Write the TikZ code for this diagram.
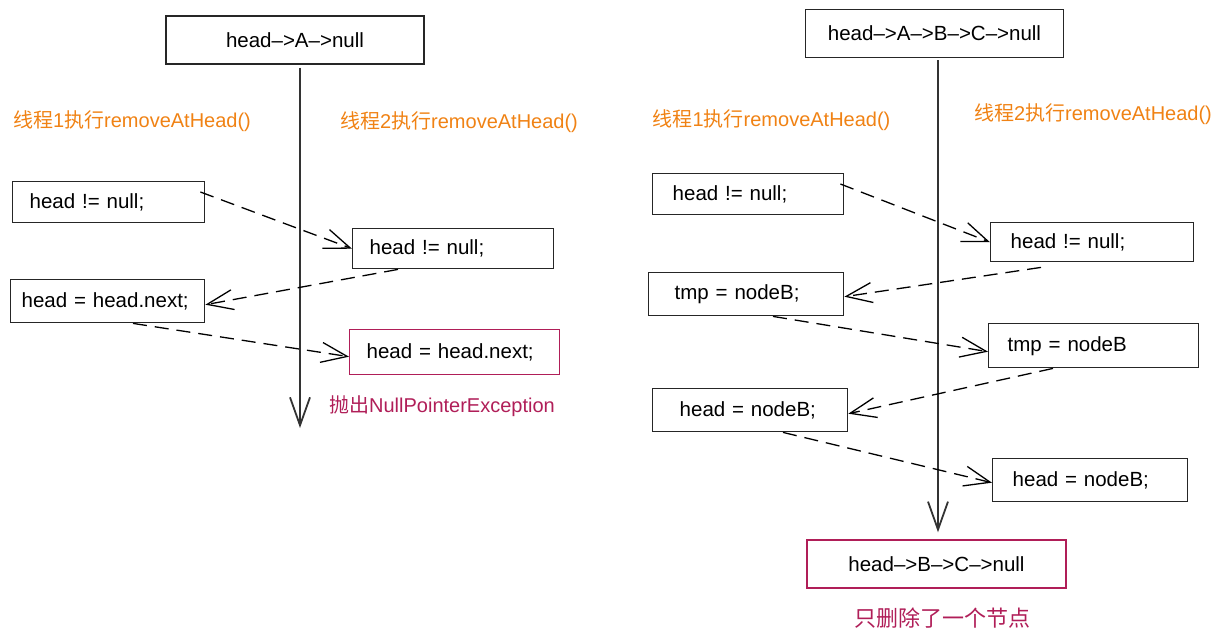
\documentclass[tikz,border=0pt]{standalone}
\usepackage{fontspec}
\setmainfont{Liberation Sans}
\newfontfamily\cjk{Noto Sans CJK SC}
\usetikzlibrary{arrows.meta}

\definecolor{threadorange}{RGB}{240,130,20}
\definecolor{alertred}{RGB}{176,30,88}
\newcommand{\codefont}{\fontsize{10.25}{12}\selectfont}
\newcommand{\labelfont}{\fontsize{10}{12}\selectfont}

\begin{document}
\begin{tikzpicture}[x=0.5pt,y=-0.5pt,
  stmt/.style={draw=black!85, line width=0.7pt, anchor=north west, align=left, font=\codefont},
  state/.style={draw=black!85, line width=0.7pt, minimum width=129pt, minimum height=24pt, font=\codefont},
  msg/.style={dash pattern=on 7pt off 4pt, line width=0.65pt, -{Straight Barb[length=13pt,width=10pt]}},
  timeline/.style={line width=0.9pt, black!80, -{Straight Barb[length=14pt,width=10pt]}},
  thread/.style={text=threadorange, font=\labelfont}]
\useasboundingbox (0,0) rectangle (1223,642);

% left: list with one node
\node[state] (headA) at (295,40) {head-->A-->null};
\node[thread] (th1a) at (132,121) {{\cjk 线程}1{\cjk 执行}removeAtHead()};
\node[thread] (th2a) at (459,122) {{\cjk 线程}2{\cjk 执行}removeAtHead()};

\node[stmt, text width=79pt, inner xsep=8.5pt, minimum height=20.5pt] (t1a) at (12,181) {head != null;};
\node[stmt, text width=83.5pt, inner xsep=8.5pt, minimum height=20pt] (t2a) at (352,228) {head != null;};
\node[stmt, text width=86pt, inner xsep=5.5pt, minimum height=21.5pt] (t1b) at (10,279) {head = head.next;};
\node[stmt, draw=alertred, text width=88pt, inner xsep=8.5pt, minimum height=22.5pt] (t2b) at (349,329) {head = head.next;};
\node[text=alertred, font=\labelfont] (npe) at (442,406) {{\cjk 抛出}NullPointerException};

\coordinate (endA) at (300,428);
\draw[timeline] ([xshift=2.5pt,yshift=-1.5pt]headA.south) -- (endA);

\draw[msg] ([xshift=-2.5pt,yshift=-5.5pt]t1a.north east) -- (t2a.west);
\draw[msg] ([xshift=23pt]t2a.south west) -- ([yshift=-1.75pt]t1b.east);
\draw[msg] ([xshift=61.5pt]t1b.south west) -- ([yshift=-2.25pt]t2b.west);

% right: list with three nodes
\node[state] (headABC) at (934.5,33.5) {head-->A-->B-->C-->null};
\node[thread] (th1b) at (771.5,120) {{\cjk 线程}1{\cjk 执行}removeAtHead()};
\node[thread] (th2b) at (1093,114) {{\cjk 线程}2{\cjk 执行}removeAtHead()};

\node[stmt, text width=75.5pt, inner xsep=10pt, minimum height=20.5pt] (r1a) at (652,173) {head != null;};
\node[stmt, text width=81.5pt, inner xsep=10pt, minimum height=19.5pt] (r2a) at (990,222) {head != null;};
\node[stmt, text width=71.5pt, inner xsep=13pt, minimum height=21.5pt] (r1b) at (648,272) {tmp = nodeB;};
\node[stmt, text width=86pt, inner xsep=9.5pt, minimum height=22pt] (r2b) at (988,323) {tmp = nodeB};
\node[stmt, text width=70.5pt, inner xsep=13.5pt, minimum height=21.5pt] (r1c) at (652,388) {head = nodeB;};
\node[stmt, text width=77.5pt, inner xsep=10pt, minimum height=21.5pt] (r2c) at (992,458) {head = nodeB;};

\node[state, draw=alertred, minimum width=129.5pt] (headBC) at (936.5,564) {head-->B-->C-->null};
\node[text=alertred, font=\fontsize{11}{13}\selectfont\cjk] (note) at (942,618) {只删除了一个节点};

\draw[timeline] ([xshift=1.75pt,yshift=-1pt]headABC.south) -- ([xshift=0.75pt,yshift=3.5pt]headBC.north);

\draw[msg] ([xshift=-2pt,yshift=-5.5pt]r1a.north east) -- (r2a.west);
\draw[msg] ([xshift=25.5pt,yshift=-2.5pt]r2a.south west) -- ([yshift=-1.25pt]r1b.east);
\draw[msg] ([xshift=62.5pt]r1b.south west) -- ([yshift=-3pt]r2b.west);
\draw[msg] ([xshift=32.5pt]r2b.south west) -- ([yshift=-1.75pt]r1c.east);
\draw[msg] ([xshift=65.5pt]r1c.south west) -- ([yshift=-1.25pt]r2c.west);
\end{tikzpicture}
\end{document}
